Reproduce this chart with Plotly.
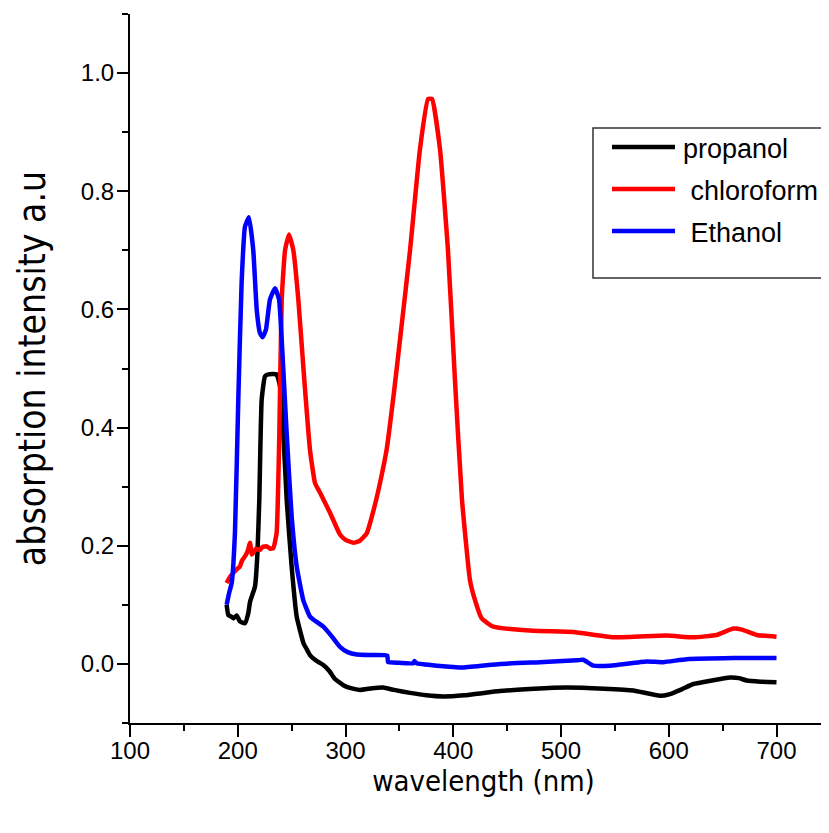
import plotly.graph_objects as go

# absorption spectra
wl_propanol = [189.7, 191.2, 194, 196, 199, 202, 206.7, 209.8, 211.4, 216, 218.2, 220, 222.2, 225.3,
               228.4, 236.1, 239.2, 242.3, 245.4, 250, 254.7, 258, 261, 264, 267, 271.7, 275, 279.4,
               285, 290, 298, 305, 313.5, 325, 335, 345, 360, 375, 390.8, 410, 443.4, 475, 505.3,
               540, 567.1, 591.9, 601.2, 612, 622.8, 640, 656.8, 665, 672.3, 685, 700]
abs_propanol = [0.100, 0.083, 0.080, 0.077, 0.082, 0.072, 0.069, 0.086, 0.105, 0.131, 0.185, 0.278,
                0.447, 0.487, 0.490, 0.490, 0.470, 0.390, 0.278, 0.165, 0.080, 0.055, 0.035, 0.025,
                0.015, 0.007, 0.003, -0.002, -0.012, -0.025, -0.036, -0.041, -0.044, -0.041, -0.040,
                -0.044, -0.049, -0.053, -0.055, -0.053, -0.046, -0.042, -0.040, -0.042, -0.045,
                -0.054, -0.051, -0.043, -0.034, -0.028, -0.023, -0.024, -0.028, -0.030, -0.031]

wl_chloroform = [189.7, 193, 196, 199, 202, 204, 206.7, 209, 211.4, 213, 214.4, 217, 220.6, 223, 226.9,
                 230, 233, 236.1, 237.5, 238.6, 240.8, 243.9, 247.6, 251.6, 256.2, 260.8, 267, 271.7,
                 276.3, 285.6, 294.9, 300, 307.3, 313, 319.7, 326, 332, 338.2, 345, 350.6, 359.9, 369.1,
                 376.6, 380.3, 387.7, 395.1, 401.6, 408.1, 415.5, 420.2, 426.4, 437.2, 474.3, 511.4,
                 548.5, 598, 622.8, 644.4, 660, 668, 681.6, 700]
abs_chloroform = [0.137, 0.148, 0.154, 0.160, 0.165, 0.175, 0.182, 0.190, 0.205, 0.185, 0.188, 0.195,
                  0.193, 0.198, 0.199, 0.195, 0.196, 0.222, 0.300, 0.390, 0.617, 0.700, 0.727, 0.700,
                  0.617, 0.504, 0.363, 0.306, 0.290, 0.256, 0.219, 0.210, 0.205, 0.208, 0.221, 0.260,
                  0.306, 0.363, 0.460, 0.549, 0.700, 0.871, 0.956, 0.956, 0.871, 0.700, 0.480, 0.278,
                  0.142, 0.108, 0.077, 0.063, 0.056, 0.054, 0.045, 0.048, 0.045, 0.049, 0.060, 0.058,
                  0.049, 0.046]

wl_ethanol = [189.7, 192, 194.4, 197.4, 200.5, 203.6, 206.7, 210.4, 214.4, 217.6, 220.6, 223.1, 226.2,
              229.9, 234.6, 238.3, 241.3, 245.4, 250, 254.7, 260.8, 267, 270.1, 279.4, 288, 294.9,
              302, 310.4, 325, 338.8, 339.5, 350, 362.9, 364, 366, 385, 409.4, 443.4, 480, 514.6,
              520.7, 530, 545.5, 579.5, 594.9, 616.6, 659.8, 700]
abs_ethanol = [0.100, 0.120, 0.137, 0.222, 0.447, 0.646, 0.740, 0.756, 0.700, 0.600, 0.560, 0.553,
               0.566, 0.617, 0.636, 0.617, 0.532, 0.390, 0.250, 0.165, 0.108, 0.080, 0.075, 0.063,
               0.045, 0.029, 0.020, 0.016, 0.015, 0.014, 0.003, 0.002, 0.001, 0.005, 0.001, -0.003,
               -0.006, 0.000, 0.003, 0.006, 0.007, -0.003, -0.003, 0.004, 0.003, 0.008, 0.010, 0.010]

series = [
    ("propanol", wl_propanol, abs_propanol, "black"),
    (" chloroform", wl_chloroform, abs_chloroform, "#ff0000"),
    (" Ethanol", wl_ethanol, abs_ethanol, "#0000ff"),
]

FONT = "Liberation Sans, Arial"
NARROW = "DejaVu Sans Condensed, DejaVu Sans"

fig = go.Figure()
for name, x, y, color in series:
    fig.add_trace(go.Scatter(x=x, y=y, mode="lines", name=name,
                             line=dict(color=color, width=4.5, shape="spline", smoothing=0.4),
                             showlegend=False))

# the page body has an 8px margin, so the figure is laid out 8px up/left of the screen positions
OFF = 8
W, H = 829, 833
ml, mt, mb = 130 - OFF, 14 - OFF, H - (723 - OFF)
pw, ph = W - ml, H - mt - mb


def px(xs):
    return (xs - OFF - ml) / pw


def py(ys):
    return (H - mb - (ys - OFF)) / ph


# legend drawn by hand so the box and sample lines match the original
fig.add_shape(type="rect", xref="paper", yref="paper",
              x0=px(593), x1=px(824), y0=py(278), y1=py(128),
              line=dict(color="#333333", width=1.5), fillcolor="white", layer="below")
for i, (name, x, y, color) in enumerate(series):
    yy = 147 + i * 42
    fig.add_shape(type="line", xref="paper", yref="paper",
                  x0=px(612), x1=px(675), y0=py(yy), y1=py(yy),
                  line=dict(color=color, width=4.5))
    fig.add_annotation(xref="paper", yref="paper", x=px(681), y=py(yy + 2),
                       xanchor="left", yanchor="middle", showarrow=False,
                       text=name.replace(" ", "&nbsp;"),
                       font=dict(family=FONT, size=27, color="black"))

fig.update_layout(
    width=W, height=H,
    margin=dict(l=ml, r=0, t=mt, b=mb, autoexpand=False),
    paper_bgcolor="white", plot_bgcolor="white",
    font=dict(family=FONT, color="black"),
)
fig.update_xaxes(
    range=[100, 100 + (W - ml) / 1.0775], tickvals=[100, 200, 300, 400, 500, 600, 700], automargin=False,
    showgrid=False, zeroline=False, showline=True, linecolor="black", linewidth=2,
    ticks="outside", ticklen=12, tickwidth=2, tickcolor="black", ticklabelstandoff=-7,
    minor=dict(dtick=50, tick0=0, ticks="outside", ticklen=6, tickwidth=2, tickcolor="black"),
    tickfont=dict(size=24),
    title=dict(text="wavelength (nm)", font=dict(family=NARROW, size=29), standoff=8),
)
fig.update_yaxes(
    range=[-0.1, 1.1], tickvals=[0.0, 0.2, 0.4, 0.6, 0.8, 1.0], tickformat=".1f", automargin=False,
    showgrid=False, zeroline=False, showline=True, linecolor="black", linewidth=2,
    ticks="outside", ticklen=11, tickwidth=2, tickcolor="black", ticklabelstandoff=-2,
    minor=dict(dtick=0.1, tick0=0, ticks="outside", ticklen=6, tickwidth=2, tickcolor="black"),
    tickfont=dict(size=24),
    title=dict(text="absorption intensity a.u", font=dict(family=NARROW, size=37), standoff=24),
)

fig.write_html("out.html")
